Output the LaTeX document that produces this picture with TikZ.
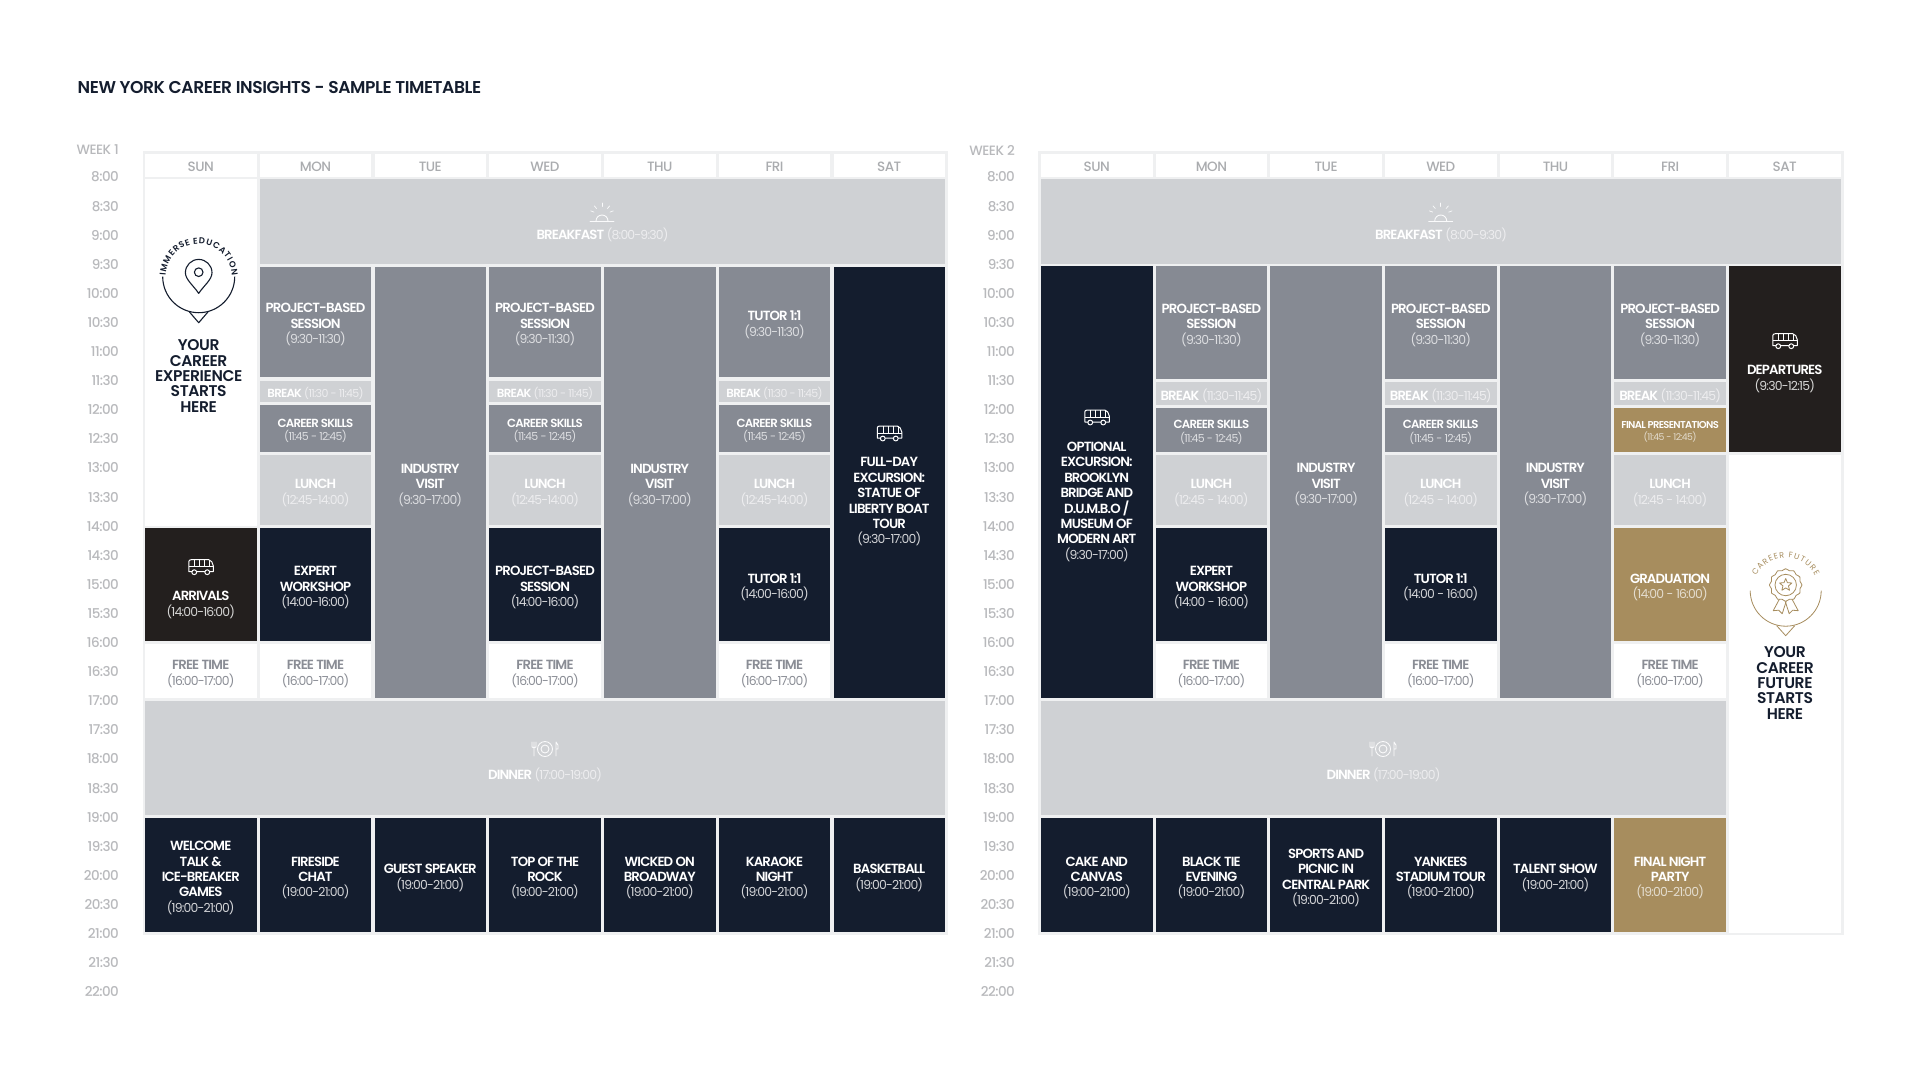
\documentclass[tikz,border=0pt]{standalone}
\usepackage{fontspec}
\setmainfont{Poppins}[BoldFont={Poppins SemiBold},BoldFeatures={Scale=1.07},LetterSpace=-6.5]
\newfontfamily\medfont{Poppins Medium}[LetterSpace=-4]
\usetikzlibrary{decorations.text}

\definecolor{SlotNavy}{HTML}{141d2e}
\definecolor{SlotGrey}{HTML}{868a93}
\definecolor{SlotPale}{HTML}{cfd1d4}
\definecolor{SlotBlack}{HTML}{231f1e}
\definecolor{SlotGold}{HTML}{a78d5e}
\definecolor{SlotFrame}{HTML}{eff0f1}
\definecolor{LabelGrey}{HTML}{b8b9bc}
\definecolor{DayGrey}{HTML}{aaacaf}
\definecolor{FreeGrey}{HTML}{8a8d95}

\tikzstyle{slot}=[inner sep=0pt, align=center, minimum width=111.5pt, text depth=0pt, font=\fontsize{12.4}{15.4}\selectfont]
\tikzstyle{on-grey}=[slot, fill=SlotGrey, text=white!72!SlotGrey]
\tikzstyle{on-navy}=[slot, fill=SlotNavy, text=white!82!SlotNavy]
\tikzstyle{on-black}=[slot, fill=SlotBlack, text=white!82!SlotBlack]
\tikzstyle{on-gold}=[slot, fill=SlotGold, text=white!70!SlotGold]
\tikzstyle{on-pale}=[slot, fill=SlotPale, text=white!62!SlotPale]
\tikzstyle{on-white}=[slot, fill=white, text=FreeGrey]
\tikzstyle{blank}=[slot, fill=white]
\tikzstyle{small}=[font=\fontsize{11}{13.3}\selectfont]
\tikzstyle{day}=[inner sep=0pt, minimum width=111.5pt, fill=white, minimum height=23pt, text=DayGrey, execute at begin node={\rule{0pt}{0.9em}}, font=\fontsize{13.5}{15}\medfont\selectfont]
\tikzstyle{hour}=[inner sep=0pt, anchor=east, text=LabelGrey, font=\fontsize{13.5}{15}\medfont\selectfont]
\tikzstyle{caption}=[inner sep=0pt, align=center, text depth=0pt, font=\fontsize{12.4}{15.4}\selectfont]
\tikzstyle{meal}=[caption, text=white!62!SlotPale]
\tikzstyle{slogan}=[caption, text=SlotNavy, font=\fontsize{14.5}{15.3}\bfseries\selectfont\addfontfeature{LetterSpace=-2.5}]
\tikzstyle{icon}=[line width=0.9pt, draw=white!90!SlotPale, line cap=round, line join=round]

\newcommand{\hd}[1]{{\rule{0pt}{1.03em}\bfseries\color{white}#1}}
\newcommand{\fd}[1]{{\rule{0pt}{1.03em}\bfseries #1}}
\newcommand{\busicon}[3]{
  \begin{scope}[shift={(#1,#2)}, x=1pt, y=1pt, line width=1pt, line join=round]
    \draw[white] (-12,-5) -- (-12,5) to[out=90,in=180] (-9.5,7) -- (8,7) to[out=0,in=110] (12.5,1) -- (12.5,-5) -- cycle;
    \draw[white] (-12,0) -- (12.5,0);
    \foreach \s in {-6,-1,4,9} \draw[white] (\s,0) -- (\s,7);
    \draw[white, fill=#3] (-6.5,-5.5) circle (2.4) (6.5,-5.5) circle (2.4);
  \end{scope}
}
\newcommand{\sunicon}[2]{
  \begin{scope}[shift={(#1,#2)}, x=1pt, y=1pt]
    \draw[icon] (-6,-6) arc (180:0:6);
    \draw[icon] (-12,-6) -- (12,-6);
    \foreach \a in {20,50,90,130,160} \draw[icon, line width=0.7pt] (\a:8.5) -- (\a:12);
  \end{scope}
}
\newcommand{\dinnericon}[2]{
  \begin{scope}[shift={(#1,#2)}, x=1pt, y=1pt]
    \draw[icon] (0,0) circle (7.5) (0,0) circle (4);
    \draw[icon] (-11,7) -- (-11,-7) (-13,7) -- (-13,2) to[bend right=40] (-9,2) -- (-9,7);
    \draw[icon] (11,-7) -- (11,7) to[bend left=30] (13,0) -- (11,0);
  \end{scope}
}

\begin{document}
\begin{tikzpicture}[x=1pt, y=-1pt]
  \useasboundingbox (0,0) rectangle (1920,1080);

  \node (title) at (77.5,87.5) [inner sep=0pt, anchor=west, text=SlotNavy, font=\fontsize{16}{17}\bfseries\selectfont\addfontfeature{LetterSpace=-2.5}] {NEW YORK CAREER INSIGHTS - SAMPLE TIMETABLE};

  % frames
  \fill[SlotFrame] (142.5,151) rectangle (947.5,935);
  \fill[SlotFrame] (1038,151) rectangle (1843.5,935);

  % hour labels
  \node (week:1) at (119,150) [hour] {WEEK 1};
  \node (week:2) at (1015,150) [hour] {WEEK 2};
  \foreach \x/\w in {119/1,1015/2}
    \foreach \t [count=\i from 0] in {8:00,8:30,9:00,9:30,10:00,10:30,11:00,11:30,12:00,12:30,13:00,13:30,14:00,14:30,15:00,15:30,16:00,16:30,17:00,17:30,18:00,18:30,19:00,19:30,20:00,20:30,21:00,21:30,22:00}
      \node (hour:\w:\i) at (\x,{177+29.1*\i}) [hour] {\t};

  % day headers
  \foreach \d [count=\i from 0] in {SUN,MON,TUE,WED,THU,FRI,SAT} {
    \node (head:1:\i) at ({200.75+114.75*\i},165) [day] {\d};
    \node (head:2:\i) at ({1096.75+114.67*\i},165) [day] {\d};
  }

  % week 1
  \def\sun{200.75} \def\mon{315.5} \def\tue{430.25} \def\wed{545} \def\thu{659.75} \def\fri{774.5} \def\sat{889.25}

  \node (w1:sun:open) at (\sun,352.3) [blank, minimum height=346.5pt] {};
  \node (w1:meals:breakfast) at (602.5,221.5) [on-pale, minimum width=685pt, minimum height=84.5pt] {};
  \node (w1:breakfast:text) at (602.5,233.2) [meal] {\hd{BREAKFAST} (8:00-9:30)};
  \sunicon{602}{215}
  \node (w1:meals:dinner) at (545,758) [on-pale, minimum width=800pt, minimum height=113.7pt] {};
  \node (w1:dinner:text) at (545,773.5) [meal] {\hd{DINNER} (17:00-19:00)};
  \dinnericon{545}{749}

  \node (w1:mon:project) at (\mon,322) [on-grey, minimum height=110.6pt] {\hd{PROJECT-BASED}\\\hd{SESSION}\\(9:30-11:30)};
  \node (w1:wed:project) at (\wed,322) [on-grey, minimum height=110.6pt] {\hd{PROJECT-BASED}\\\hd{SESSION}\\(9:30-11:30)};
  \node (w1:fri:tutor)   at (\fri,322) [on-grey, minimum height=110.6pt] {\hd{TUTOR 1:1}\\(9:30-11:30)};

  \foreach \c/\n in {\mon/mon,\wed/wed,\fri/fri} {
    \node (w1:\n:break)  at (\c,391.5) [on-pale, small, minimum height=21.6pt] {\hd{BREAK} (11:30 - 11:45)};
    \node (w1:\n:skills) at (\c,428.5) [on-grey, small, minimum height=46.4pt] {\hd{CAREER SKILLS}\\(11:45 - 12:45)};
    \node (w1:\n:lunch)  at (\c,490.2) [on-pale, minimum height=70.3pt] {\hd{LUNCH}\\(12:45-14:00)};
    \node (w1:\n:free)   at (\c,671) [on-white, minimum height=54pt] {\fd{FREE TIME}\\(16:00-17:00)};
  }
  \node (w1:sun:free) at (\sun,671) [on-white, minimum height=54pt] {\fd{FREE TIME}\\(16:00-17:00)};

  \node (w1:sun:arrivals) at (\sun,584.7) [on-black, minimum height=112.7pt] {};
  \busicon{\sun}{566.7}{SlotBlack}
  \node (w1:arrivals:text) at (\sun,602) [caption, text=white!82!SlotBlack] {\hd{ARRIVALS}\\(14:00-16:00)};
  \node (w1:mon:expert) at (\mon,584.7) [on-navy, minimum height=112.7pt] {\hd{EXPERT}\\\hd{WORKSHOP}\\(14:00-16:00)};
  \node (w1:wed:project2) at (\wed,584.7) [on-navy, minimum height=112.7pt] {\hd{PROJECT-BASED}\\\hd{SESSION}\\(14:00-16:00)};
  \node (w1:fri:tutor2) at (\fri,584.7) [on-navy, minimum height=112.7pt] {\hd{TUTOR 1:1}\\(14:00-16:00)};

  \node (w1:tue:visit) at (\tue,482.3) [on-grey, minimum height=431.3pt] {\hd{INDUSTRY}\\\hd{VISIT}\\(9:30-17:00)};
  \node (w1:thu:visit) at (\thu,482.3) [on-grey, minimum height=431.3pt] {\hd{INDUSTRY}\\\hd{VISIT}\\(9:30-17:00)};

  \node (w1:sat:trip) at (\sat,482.3) [on-navy, minimum height=431.3pt] {};
  \busicon{\sat}{433}{SlotNavy}
  \node (w1:trip:text) at (\sat,499) [caption, text=white!82!SlotNavy] {\hd{FULL-DAY}\\\hd{EXCURSION:}\\\hd{STATUE OF}\\\hd{LIBERTY BOAT}\\\hd{TOUR}\\(9:30-17:00)};

  \node (w1:sun:welcome) at (\sun,875) [on-navy, minimum height=114.3pt] {\hd{WELCOME}\\\hd{TALK \&}\\\hd{ICE-BREAKER}\\\hd{GAMES}\\(19:00-21:00)};
  \node (w1:mon:chat)    at (\mon,875) [on-navy, minimum height=114.3pt] {\hd{FIRESIDE}\\\hd{CHAT}\\(19:00-21:00)};
  \node (w1:tue:guest)   at (\tue,875) [on-navy, minimum height=114.3pt] {\hd{GUEST SPEAKER}\\(19:00-21:00)};
  \node (w1:wed:rock)    at (\wed,875) [on-navy, minimum height=114.3pt] {\hd{TOP OF THE}\\\hd{ROCK}\\(19:00-21:00)};
  \node (w1:thu:wicked)  at (\thu,875) [on-navy, minimum height=114.3pt] {\hd{WICKED ON}\\\hd{BROADWAY}\\(19:00-21:00)};
  \node (w1:fri:karaoke) at (\fri,875) [on-navy, minimum height=114.3pt] {\hd{KARAOKE}\\\hd{NIGHT}\\(19:00-21:00)};
  \node (w1:sat:ball)    at (\sat,875) [on-navy, minimum height=114.3pt] {\hd{BASKETBALL}\\(19:00-21:00)};

  % week 2
  \def\sun{1096.75} \def\mon{1211.4} \def\tue{1326.1} \def\wed{1440.75} \def\thu{1555.4} \def\fri{1670.1} \def\sat{1784.75}

  \node (w2:sat:open) at (\sat,693.6) [blank, minimum height=477.8pt] {};
  \node (w2:meals:breakfast) at (1441,221.3) [on-pale, minimum width=800pt, minimum height=84.4pt] {};
  \node (w2:breakfast:text) at (1441,233.2) [meal] {\hd{BREAKFAST} (8:00-9:30)};
  \sunicon{1440.7}{215}
  \node (w2:meals:dinner) at (1383.5,758) [on-pale, minimum width=685pt, minimum height=113.7pt] {};
  \node (w2:dinner:text) at (1383.5,773.5) [meal] {\hd{DINNER} (17:00-19:00)};
  \dinnericon{1383}{749}

  \node (w2:sun:trip) at (\sun,482) [on-navy, minimum height=432.5pt] {};
  \busicon{\sun}{417}{SlotNavy}
  \node (w2:trip:text) at (\sun,499) [caption, text=white!82!SlotNavy] {\hd{OPTIONAL}\\\hd{EXCURSION:}\\\hd{BROOKLYN}\\\hd{BRIDGE AND}\\\hd{D.U.M.B.O /}\\\hd{MUSEUM OF}\\\hd{MODERN ART}\\(9:30-17:00)};

  \foreach \c/\n in {\mon/mon,\wed/wed,\fri/fri} {
    \node (w2:\n:project) at (\c,322.3) [on-grey, minimum height=113.3pt] {\hd{PROJECT-BASED}\\\hd{SESSION}\\(9:30-11:30)};
    \node (w2:\n:break)   at (\c,393.7) [on-pale, minimum height=22.7pt] {\hd{BREAK} (11:30-11:45)};
    \node (w2:\n:lunch)   at (\c,490) [on-pale, minimum height=70pt] {\hd{LUNCH}\\(12:45 - 14:00)};
    \node (w2:\n:free)    at (\c,671) [on-white, minimum height=54pt] {\fd{FREE TIME}\\(16:00-17:00)};
  }
  \node (w2:mon:skills) at (\mon,429.7) [on-grey, small, minimum height=44pt] {\hd{CAREER SKILLS}\\(11:45 - 12:45)};
  \node (w2:wed:skills) at (\wed,429.7) [on-grey, small, minimum height=44pt] {\hd{CAREER SKILLS}\\(11:45 - 12:45)};
  \node (w2:fri:final)  at (\fri,429.7) [on-gold, font=\fontsize{9.3}{11.8}\selectfont, minimum height=44pt] {\hd{FINAL PRESENTATIONS}\\(11:45 - 12:45)};

  \node (w2:mon:expert) at (\mon,584.7) [on-navy, minimum height=112.7pt] {\hd{EXPERT}\\\hd{WORKSHOP}\\(14:00 - 16:00)};
  \node (w2:wed:tutor)  at (\wed,584.7) [on-navy, minimum height=112.7pt] {\hd{TUTOR 1:1}\\(14:00 - 16:00)};
  \node (w2:fri:grad)   at (\fri,584.7) [on-gold, minimum height=112.7pt] {\hd{GRADUATION}\\(14:00 - 16:00)};

  \node (w2:tue:visit) at (\tue,482) [on-grey, minimum height=432.5pt] {\hd{INDUSTRY}\\\hd{VISIT}\\(9:30-17:00)};
  \node (w2:thu:visit) at (\thu,482) [on-grey, minimum height=432.5pt] {\hd{INDUSTRY}\\\hd{VISIT}\\(9:30-17:00)};

  \node (w2:sat:departures) at (\sat,358.7) [on-black, minimum height=186pt] {};
  \busicon{\sat}{340.7}{SlotBlack}
  \node (w2:departures:text) at (\sat,376) [caption, text=white!82!SlotBlack] {\hd{DEPARTURES}\\(9:30-12:15)};

  \node (w2:sun:cake)    at (\sun,875) [on-navy, minimum height=114.3pt] {\hd{CAKE AND}\\\hd{CANVAS}\\(19:00-21:00)};
  \node (w2:mon:tie)     at (\mon,875) [on-navy, minimum height=114.3pt] {\hd{BLACK TIE}\\\hd{EVENING}\\(19:00-21:00)};
  \node (w2:tue:picnic)  at (\tue,875) [on-navy, minimum height=114.3pt] {\hd{SPORTS AND}\\\hd{PICNIC IN}\\\hd{CENTRAL PARK}\\(19:00-21:00)};
  \node (w2:wed:yankees) at (\wed,875) [on-navy, minimum height=114.3pt] {\hd{YANKEES}\\\hd{STADIUM TOUR}\\(19:00-21:00)};
  \node (w2:thu:talent)  at (\thu,875) [on-navy, minimum height=114.3pt] {\hd{TALENT SHOW}\\(19:00-21:00)};
  \node (w2:fri:party)   at (\fri,875) [on-gold, minimum height=114.3pt] {\hd{FINAL NIGHT}\\\hd{PARTY}\\(19:00-21:00)};

  % logos
  \begin{scope}[shift={(198.7,276.7)}, x=1pt, y=1pt, line width=1.1pt, line join=round]
    \draw[SlotNavy] (-36,0) arc (180:360:36);
    \draw[SlotNavy] (-9.3,-35.2) -- (0,-46) -- (9.3,-35.2);
    \draw[SlotNavy] (0,-16.7) .. controls (-5,-9) and (-13.3,-3) .. (-13.3,4) arc (180:0:13.3) .. controls (13.3,-3) and (5,-9) .. (0,-16.7) -- cycle;
    \draw[SlotNavy] (0,4.5) circle (4.3);
    \path[postaction={decorate}, decoration={text along path, text align=fit to path, text color=SlotNavy, text={|\fontsize{8}{9}\bfseries\selectfont|IMMERSE EDUCATION}}] (178:33) arc (178:2:33);
  \end{scope}
  \node (logo:1:text) at (198.7,376) [slogan] {YOUR\\CAREER\\EXPERIENCE\\STARTS\\HERE};

  \begin{scope}[shift={(1785.7,590.7)}, x=1pt, y=1pt, line width=0.8pt, line join=round]
    \draw[SlotGold] (-35.5,0) arc (180:360:35.5);
    \draw[SlotGold] (-9,-35) -- (0,-45) -- (9,-35);
    \draw[SlotGold] (-5,-6) -- (-12.5,-20) -- (-7,-19.5) -- (-3.5,-23) -- (1,-9);
    \draw[SlotGold] (5,-6) -- (12.5,-20) -- (7,-19.5) -- (3.5,-23) -- (-1,-9);
    \draw[SlotGold, fill=white, shift={(0,5.7)}] plot[smooth cycle, samples at={0,15,...,345}, variable=\t] (\t:{15.5+0.8*cos(12*\t)});
    \draw[SlotGold] (0,5.7) circle (10.7);
    \draw[SlotGold, shift={(0,5.7)}] (90:6.5) \foreach \a in {1,...,9} {-- ({90+36*\a}:{mod(\a,2)==0?6.5:2.9})} -- cycle;
    \path[postaction={decorate}, decoration={text along path, text align=fit to path, text color=SlotGold, text={|\fontsize{8}{9}\selectfont|CAREER FUTURE}}] (153:33) arc (153:27:33);
  \end{scope}
  \node (logo:2:text) at (1785,683) [slogan] {YOUR\\CAREER\\FUTURE\\STARTS\\HERE};
\end{tikzpicture}
\end{document}
